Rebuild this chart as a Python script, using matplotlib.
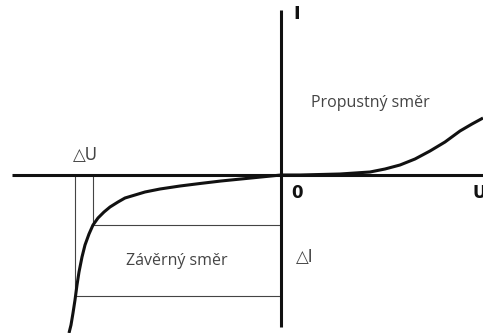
import matplotlib
matplotlib.use("Agg")
import matplotlib.pyplot as plt

# Characteristic curve (relative to axis origin), reverse branch
rev_u = [-212, -210, -208, -206, -204, -202, -199, -196, -192, -188, -183, -177, -171, -163, -156,
         -146, -136, -121, -101, -81, -60, -40, -20, 0]
rev_i = [-158, -150, -138, -125, -110, -97, -82, -70, -59, -50, -43, -37, -32, -27, -23,
         -20, -17, -14, -11, -8.5, -6, -4, -2, 0]
# forward branch
fwd_u = [0, 19, 39, 59, 74, 89, 104, 119, 134, 149, 164, 179, 191, 202]
fwd_i = [0, 0, 0.5, 1, 2, 3, 6, 10, 16, 24, 33, 44, 51, 57]

# Delta construction
du_left = -206
du_right = -188
di_top = -50
di_bottom = -121

fig = plt.figure(figsize=(4.83, 3.33), dpi=100)
ax = fig.add_axes([0, 0, 1, 1])
ax.set_xlim(-281, 202)
ax.set_ylim(-158, 175)
ax.axis("off")

thin = dict(color="#444444", lw=0.8)
ax.plot([du_left, du_left], [0, di_bottom], **thin)
ax.plot([du_right, du_right], [0, di_top], **thin)
ax.plot([du_right, 0], [di_top, di_top], **thin)
ax.plot([du_left, 0], [di_bottom, di_bottom], **thin)

# axes
ax.plot([-269, 202], [0, 0], color="#111111", lw=2.2, solid_capstyle="butt")
ax.plot([0, 0], [-152, 165], color="#111111", lw=2.2, solid_capstyle="butt")

ax.plot(rev_u, rev_i, color="#111111", lw=2.2, solid_capstyle="butt", solid_joinstyle="round")
ax.plot(fwd_u, fwd_i, color="#111111", lw=2.2, solid_capstyle="butt", solid_joinstyle="round")

ax.text(12, 161, "I", fontsize=13, fontweight="bold", ha="left", va="center", color="#111111")
ax.text(10, -18, "0", fontsize=12, fontweight="bold", ha="left", va="center", color="#111111")
ax.text(191, -18, "U", fontsize=12, fontweight="bold", ha="left", va="center", color="#111111")
ax.text(89, 72, "Propustný směr", fontsize=11.5, ha="center", va="center", color="#444444", family="Open Sans")
ax.text(-104, -86, "Závěrný směr", fontsize=11.5, ha="center", va="center", color="#444444", family="Open Sans")
ax.text(15, -82, "△I", fontsize=12, ha="left", va="center", color="#444444", family=["DejaVu Sans"])
ax.text(-196, 20, "△U", fontsize=12, ha="center", va="center", color="#444444", family=["DejaVu Sans"])

fig.savefig("out.png", dpi=100)
